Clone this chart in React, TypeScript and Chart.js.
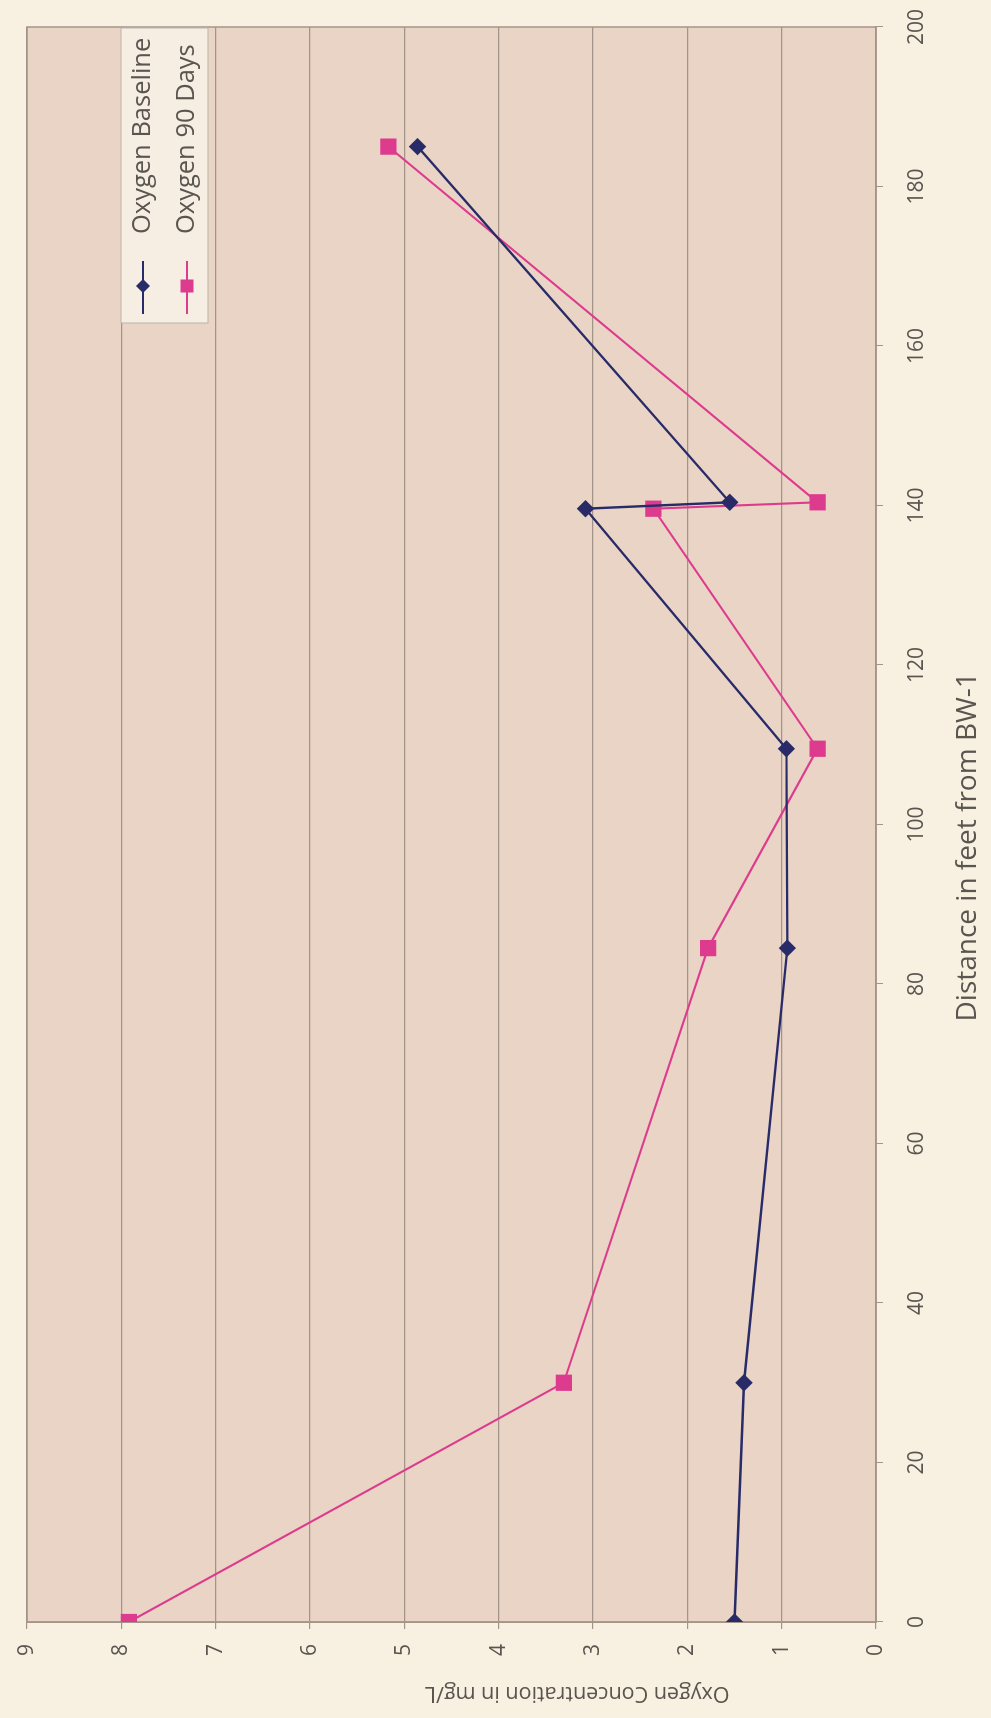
import React, { useEffect, useRef } from "react";
import { Chart, registerables } from "chart.js";

Chart.register(...registerables);

// ---- data ----
const seriesLabels = ["Oxygen Baseline", "Oxygen 90 Days"];
const baselineDistance = [0, 30, 84.5, 109.5, 139.6, 140.4, 185];
const baselineOxygen = [1.5, 1.4, 0.94, 0.95, 3.08, 1.55, 4.86];
const ninetyDistance = [0, 30, 84.5, 109.5, 139.6, 140.4, 185];
const ninetyOxygen = [7.92, 3.31, 1.78, 0.62, 2.36, 0.62, 5.17];
const distanceRange = [0, 200];
const distanceStep = 20;
const oxygenRange = [0, 9];
const oxygenStep = 1;
const xTitle = "Distance in feet from BW-1";
const yTitle = "Oxygen Concentration in mg/L";

// canvas is drawn landscape and turned a quarter turn counter-clockwise
const W = 1718;
const H = 991;

const FONT = "'Open Sans', 'DejaVu Sans', sans-serif";
const PAGE_BG = "#f8f1e1";
const PLOT_BG = "#e9d4c6";
const GRID = "#a39489";
const NAVY = "#282b68";
const PINK = "#dd3b8d";
const TEXT = "#5a5550";

const backgroundPlugin = {
  id: "bg",
  beforeDraw(chart: any) {
    const { ctx, chartArea: a } = chart;
    ctx.save();
    ctx.fillStyle = PAGE_BG;
    ctx.fillRect(0, 0, chart.width, chart.height);
    ctx.fillStyle = PLOT_BG;
    ctx.fillRect(a.left, a.top, a.right - a.left, a.bottom - a.top);
    ctx.restore();
  },
  beforeDatasetsDraw(chart: any) {
    const { ctx, chartArea: a } = chart;
    ctx.save();
    ctx.strokeStyle = GRID;
    ctx.lineWidth = 1.5;
    ctx.strokeRect(a.left, a.top, a.right - a.left, a.bottom - a.top);
    ctx.restore();
  },
};

const titlesPlugin = {
  id: "axisTitles",
  afterDraw(chart: any) {
    const { ctx, chartArea: a } = chart;
    ctx.save();
    ctx.fillStyle = TEXT;
    ctx.textAlign = "center";
    ctx.textBaseline = "middle";
    // x title
    ctx.font = `28px ${FONT}`;
    ctx.fillText(xTitle, a.left + (a.right - a.left) * 0.486, 968);
    // y title (rotated)
    ctx.font = `21.5px ${FONT}`;
    ctx.translate(25, a.top + (a.bottom - a.top) * 0.648);
    ctx.rotate(-Math.PI / 2);
    ctx.fillText(yTitle, 0, 0);
    ctx.restore();
  },
};

const legendPlugin = {
  id: "boxLegend",
  afterDraw(chart: any) {
    const { ctx, chartArea: a } = chart;
    const right = a.right - 1;
    const left = right - 295;
    const top = a.top + 94;
    const bottom = top + 87;
    ctx.save();
    ctx.fillStyle = "#f6eee3";
    ctx.strokeStyle = "#bdb3aa";
    ctx.lineWidth = 1;
    ctx.fillRect(left, top, right - left, bottom - top);
    ctx.strokeRect(left, top, right - left, bottom - top);
    const rows = [
      { label: seriesLabels[0], color: NAVY, style: "diamond", y: top + 22 },
      { label: seriesLabels[1], color: PINK, style: "square", y: top + 66 },
    ];
    ctx.font = `25.5px ${FONT}`;
    ctx.textBaseline = "middle";
    ctx.textAlign = "left";
    for (const r of rows) {
      const lx0 = left + 9;
      const lx1 = left + 62;
      const cx = left + 37;
      ctx.strokeStyle = r.color;
      ctx.lineWidth = 2;
      ctx.beginPath();
      ctx.moveTo(lx0, r.y);
      ctx.lineTo(lx1, r.y);
      ctx.stroke();
      ctx.fillStyle = r.color;
      ctx.beginPath();
      if (r.style === "diamond") {
        const s = 7;
        ctx.moveTo(cx, r.y - s);
        ctx.lineTo(cx + s, r.y);
        ctx.lineTo(cx, r.y + s);
        ctx.lineTo(cx - s, r.y);
        ctx.closePath();
      } else {
        ctx.rect(cx - 6.5, r.y - 6.5, 13, 13);
      }
      ctx.fill();
      ctx.fillStyle = TEXT;
      ctx.fillText(r.label, left + 89, r.y);
    }
    ctx.restore();
  },
};

export default function App() {
  const ref = useRef<HTMLCanvasElement>(null);

  useEffect(() => {
    document.body.style.margin = "0";
    document.body.style.background = PAGE_BG;
    const canvas = ref.current;
    if (!canvas) return;
    const chart = new Chart(canvas, {
      type: "line",
      data: {
        datasets: [
          {
            label: seriesLabels[0],
            data: baselineDistance.map((d, i) => ({ x: d, y: baselineOxygen[i] })),
            borderColor: NAVY,
            backgroundColor: NAVY,
            borderWidth: 2.4,
            pointStyle: "rectRot",
            pointRadius: 7,
            pointHoverRadius: 7,
            tension: 0,
          },
          {
            label: seriesLabels[1],
            data: ninetyDistance.map((d, i) => ({ x: d, y: ninetyOxygen[i] })),
            borderColor: PINK,
            backgroundColor: PINK,
            borderWidth: 2.1,
            pointStyle: "rect",
            pointRadius: 10,
            pointHoverRadius: 10,
            tension: 0,
          },
        ],
      },
      options: {
        responsive: false,
        animation: false,
        devicePixelRatio: 1,
        layout: { padding: { top: 27, right: 27, left: 0, bottom: 0 } },
        plugins: {
          legend: { display: false },
          tooltip: { enabled: false },
        },
        scales: {
          x: {
            type: "linear",
            min: distanceRange[0],
            max: distanceRange[1],
            ticks: {
              stepSize: distanceStep,
              font: { family: FONT, size: 21 },
              color: TEXT,
              padding: 21,
              maxRotation: 0,
            },
            grid: { drawOnChartArea: false, tickLength: 7, color: GRID },
            border: { color: GRID, width: 1.5 },
            title: { display: false },
            afterFit: (s: any) => {
              s.height = 115;
              s.paddingLeft = 0;
              s.paddingRight = 20;
            },
          },
          y: {
            type: "linear",
            min: oxygenRange[0],
            max: oxygenRange[1],
            ticks: {
              stepSize: oxygenStep,
              font: { family: FONT, size: 21 },
              color: TEXT,
              padding: 15,
            },
            grid: { color: GRID, tickLength: 7, lineWidth: 1.2 },
            border: { color: GRID, width: 1.5 },
            title: { display: false },
            afterFit: (s: any) => {
              s.width = 96;
              s.paddingTop = 12;
              s.paddingBottom = 0;
            },
          },
        },
      },
      plugins: [backgroundPlugin, titlesPlugin, legendPlugin],
    });
    return () => chart.destroy();
  }, []);

  return (
    <div
      style={{
        position: "relative",
        width: H,
        height: W,
        overflow: "hidden",
        background: PAGE_BG,
      }}
    >
      <div
        style={{
          position: "absolute",
          left: 0,
          top: 0,
          width: W,
          height: H,
          transformOrigin: "0 0",
          transform: `translate(0px, ${W}px) rotate(-90deg)`,
        }}
      >
        <canvas ref={ref} width={W} height={H} style={{ display: "block", width: W, height: H }} />
      </div>
    </div>
  );
}
